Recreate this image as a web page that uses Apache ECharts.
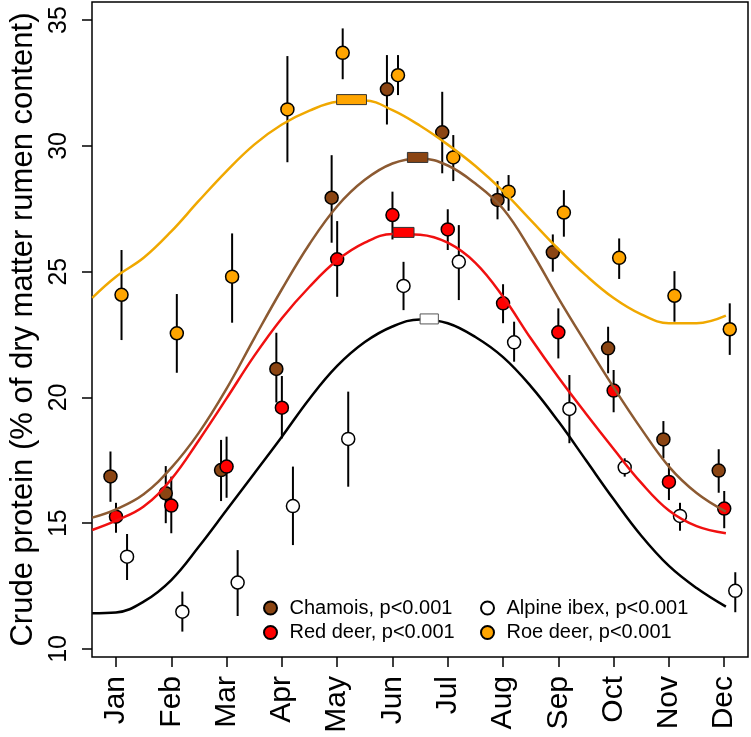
<!DOCTYPE html>
<html>
<head>
<meta charset="utf-8">
<script src="https://cdn.jsdelivr.net/npm/echarts@6/dist/echarts.min.js"></script>
<style>
html,body{margin:0;padding:0;background:#fff;}
#chart{width:751px;height:737px;}
</style>
</head>
<body>
<div id="chart"></div>
<script>
// ---- data ----
const months = ['Jan','Feb','Mar','Apr','May','Jun','Jul','Aug','Sep','Oct','Nov','Dec'];
const monthPos = [1,2,3,4,5,6,7,8,9,10,11,12];
const yTicks = [10,15,20,25,30,35];

const seriesNames = ['Chamois, p<0.001','Red deer, p<0.001','Alpine ibex, p<0.001','Roe deer, p<0.001'];

const chamoisMean = [16.86,16.19,17.11,21.13,27.94,32.25,30.54,27.85,25.77,21.95,18.33,17.09];
const chamoisLo   = [15.85,15.00,15.88,19.80,26.15,30.85,28.91,27.08,25.00,20.96,17.58,16.21];
const chamoisHi   = [17.85,17.27,18.31,22.57,29.63,33.61,32.15,28.60,26.48,22.81,19.06,17.94];

const redMean = [15.26,15.70,17.25,19.59,25.49,27.25,26.68,23.74,22.59,20.27,16.64,15.58];
const redLo   = [14.62,14.60,16.01,18.37,24.00,26.28,25.86,22.95,21.55,19.41,15.92,14.80];
const redHi   = [15.81,16.85,18.44,20.85,27.01,28.18,27.48,24.50,23.54,21.09,17.38,16.28];

const ibexMean = [13.67,11.48,12.64,15.68,18.35,24.43,25.39,22.19,19.54,17.22,15.29,12.31];
const ibexLo   = [12.74,10.69,11.31,14.13,16.45,23.47,23.87,21.42,18.18,16.85,14.70,11.46];
const ibexHi   = [14.57,12.28,13.93,17.25,20.23,25.39,26.85,23.01,20.89,17.58,15.81,13.05];

const roeMean = [24.08,22.55,24.80,31.45,33.70,32.81,29.54,28.18,27.35,25.55,24.04,22.71];
const roeLo   = [22.28,20.98,22.97,29.35,32.65,32.02,28.60,27.42,26.39,24.71,23.01,21.69];
const roeHi   = [25.86,24.11,26.52,33.57,34.67,33.61,30.43,28.84,28.24,26.32,25.02,23.74];

// fitted seasonal curves, read at these month positions
const curveX = [0.57,1,1.5,2,2.5,3,3.5,4,4.5,5,5.5,6,6.5,7,7.5,8,8.5,9,9.5,10,10.5,11,11.5,12.03];
const chamoisCurve = [15.22,15.55,16.15,17.2,18.6,20.35,22.35,24.3,26.1,27.6,28.65,29.3,29.5,29.22,28.5,27.5,25.85,23.95,22.15,20.4,18.75,17.25,16.2,15.46];
const redCurve     = [14.73,15.1,15.66,16.75,18.3,19.96,21.65,23.15,24.4,25.45,26.15,26.5,26.47,26.15,25.35,24.0,22.35,20.8,19.35,17.95,16.6,15.5,14.88,14.6];
const ibexCurve    = [11.42,11.45,11.88,12.74,14.07,15.52,16.98,18.44,19.95,21.25,22.2,22.82,23.1,22.95,22.4,21.6,20.45,19.05,17.5,15.95,14.5,13.3,12.42,11.68];
const roeCurve     = [23.96,24.8,25.55,26.6,27.82,29.0,30.05,30.85,31.4,31.75,31.8,31.42,30.8,30.05,29.2,28.2,27.05,25.9,24.85,23.95,23.3,22.95,22.95,23.25];

// peak timing boxes: [from month, to month, value]
const chamoisPeak = [6.27,6.64,29.54];
const redPeak     = [6.01,6.39,26.56];
const ibexPeak    = [6.50,6.83,23.12];
const roePeak     = [4.99,5.53,31.84];

// ---- styling ----
const FONT = '"Liberation Sans", Arial, Helvetica, sans-serif';
const dodge = [-0.1, 0, 0.2, 0.1];
const fills = ['#8B4513','#FF0000','#FFFFFF','#FFA500'];
const lineColors = ['#8C5A32','#F01010','#000000','#F0A800'];
const boxStroke = ['#333','#333','#555','#333'];

const means = [chamoisMean, redMean, ibexMean, roeMean];
const los = [chamoisLo, redLo, ibexLo, roeLo];
const his = [chamoisHi, redHi, ibexHi, roeHi];
const curves = [chamoisCurve, redCurve, ibexCurve, roeCurve];
const peaks = [chamoisPeak, redPeak, ibexPeak, roePeak];

const series = [];
for (let s = 0; s < 4; s++) {
  series.push({
    name: 'err' + s,
    type: 'custom',
    z: 2,
    data: monthPos.map((m, i) => [m + dodge[s], los[s][i], his[s][i]]),
    encode: {x: 0, y: [1, 2]},
    renderItem: function (params, api) {
      const a = api.coord([api.value(0), api.value(1)]);
      const b = api.coord([api.value(0), api.value(2)]);
      return {type: 'line', shape: {x1: a[0], y1: a[1], x2: b[0], y2: b[1]},
        style: {stroke: '#000', lineWidth: 2}};
    },
    silent: true
  });
}
for (let s = 0; s < 4; s++) {
  series.push({
    name: seriesNames[s],
    type: 'scatter',
    z: 3 + s * 0.01,
    symbol: 'circle',
    symbolSize: 13,
    itemStyle: {color: fills[s], borderColor: '#000', borderWidth: 1.5, opacity: 1},
    data: monthPos.map((m, i) => [m + dodge[s], means[s][i]])
  });
}
for (let s = 0; s < 4; s++) {
  series.push({
    name: 'curve' + s,
    type: 'line',
    z: 4,
    smooth: 0.4,
    showSymbol: false,
    symbol: 'none',
    lineStyle: {color: lineColors[s], width: 2.5},
    data: curveX.map((x, i) => [x, curves[s][i]]),
    silent: true
  });
}
for (let s = 0; s < 4; s++) {
  series.push({
    name: 'peak' + s,
    type: 'custom',
    z: 5,
    data: [peaks[s]],
    encode: {x: [0, 1], y: 2},
    renderItem: function (params, api) {
      const a = api.coord([api.value(0), api.value(2)]);
      const b = api.coord([api.value(1), api.value(2)]);
      return {type: 'rect', shape: {x: a[0], y: a[1] - 5, width: b[0] - a[0], height: 10},
        style: {fill: fills[s], stroke: boxStroke[s], lineWidth: 1}};
    },
    silent: true
  });
}

const legendCommon = {
  orient: 'vertical',
  top: 598,
  itemWidth: 28,
  itemHeight: 13,
  itemGap: 4.5,
  padding: 0,
  icon: 'circle',
  selectedMode: false,
  textStyle: {fontFamily: FONT, fontSize: 20, color: '#000', lineHeight: 20}
};

const option = {
  animation: false,
  backgroundColor: '#fff',
  grid: {left: 92, right: 3, top: 2, bottom: 80, show: true, borderColor: '#000', borderWidth: 1.5,
    containLabel: false, outerBoundsMode: 'none'},
  legend: [
    Object.assign({left: 263, data: [seriesNames[0], seriesNames[1]]}, legendCommon),
    Object.assign({left: 480, data: [seriesNames[2], seriesNames[3]]}, legendCommon)
  ],
  xAxis: {
    type: 'value', min: 0.566, max: 12.43,
    axisLine: {show: false},
    splitLine: {show: false},
    axisTick: {show: true, length: 10, lineStyle: {color: '#000', width: 1.5}, customValues: monthPos},
    axisLabel: {rotate: 90, margin: 19, fontSize: 30, fontFamily: FONT, color: '#000',
      customValues: monthPos, formatter: v => months[Math.round(v) - 1]}
  },
  yAxis: {
    type: 'value', min: 9.68, max: 35.72,
    name: 'Crude protein (% of dry matter rumen content)',
    nameLocation: 'middle', nameRotate: 90, nameGap: 52,
    nameTextStyle: {fontFamily: FONT, fontSize: 31, color: '#000'},
    axisLine: {show: false},
    splitLine: {show: false},
    axisTick: {show: true, length: 10, lineStyle: {color: '#000', width: 1.5}, customValues: yTicks},
    axisLabel: {rotate: 90, margin: 20, fontSize: 25, fontFamily: FONT, color: '#000',
      customValues: yTicks}
  },
  series: series
};

const chart = echarts.init(document.getElementById('chart'), null, {renderer: 'canvas'});
chart.setOption(option);
</script>
</body>
</html>
